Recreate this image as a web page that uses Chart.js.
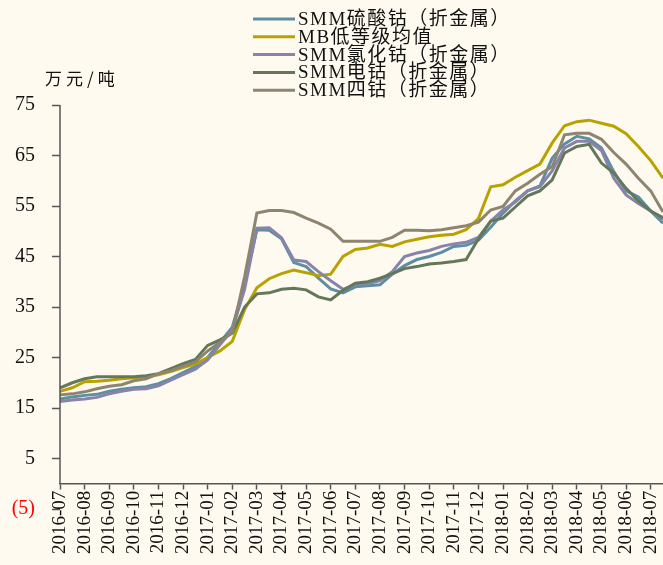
<!DOCTYPE html>
<html lang="zh-CN">
<head>
<meta charset="UTF-8">
<title>钴产品价格走势</title>
<script src="https://cdn.jsdelivr.net/npm/chart.js@4.4.0/dist/chart.umd.min.js"></script>
<style>
  * { margin:0; padding:0; box-sizing:border-box; }
  body { background:#fffaf0; }
  .wrap { width:663px; height:565px; position:relative; }
</style>
</head>
<body>
<div class="wrap"><canvas id="chartCobalt"></canvas></div>

<script>
// 月份刻度，数据为半月一点
const months = ['2016-07','2016-08','2016-09','2016-10','2016-11','2016-12',
  '2017-01','2017-02','2017-03','2017-04','2017-05','2017-06','2017-07','2017-08',
  '2017-09','2017-10','2017-11','2017-12','2018-01','2018-02','2018-03','2018-04',
  '2018-05','2018-06','2018-07'];
const periods = months.flatMap(m => [m, '']);

const yTicks = [-5, 5, 15, 25, 35, 45, 55, 65, 75];

const smmSulfate = [16.8,17.2,17.5,17.7,18.3,18.7,19.0,19.2,19.8,20.8,
  22.0,23.2,25.0,28.0,31.0,39.5,50.3,50.2,48.5,43.8,
  43.0,40.7,38.6,37.8,39.0,39.2,39.4,41.5,43.2,44.4,
  45.0,45.8,47.0,47.2,48.2,50.8,53.6,56.0,58.0,59.0,
  64.5,67.3,68.8,68.3,66.5,61.8,58.0,56.8,54.0,51.6];
const mbLow = [18.3,19.0,20.2,20.3,20.5,20.8,21.0,21.2,21.6,22.2,
  23.0,23.7,25.0,26.3,28.2,34.5,38.8,40.6,41.6,42.3,
  41.8,41.2,41.5,45.0,46.4,46.7,47.4,47.0,47.9,48.4,
  48.9,49.2,49.4,50.3,52.5,58.8,59.2,60.7,62.0,63.3,
  67.5,70.9,71.7,72.0,71.4,70.8,69.3,66.8,64.0,60.5];
const smmChloride = [16.3,16.6,16.8,17.1,17.8,18.3,18.7,18.8,19.4,20.5,
  21.6,22.7,24.5,27.5,30.5,38.5,50.6,50.7,48.7,44.3,
  44.0,42.0,40.2,38.5,39.4,39.6,40.2,42.0,45.0,45.7,
  46.2,47.0,47.5,47.8,48.8,52.0,54.2,55.8,58.0,58.8,
  62.0,66.5,67.8,67.8,66.0,60.5,57.2,55.5,54.0,52.4];
const smmMetal = [19.0,20.0,20.8,21.2,21.2,21.2,21.2,21.4,21.8,22.8,
  23.8,24.6,27.4,28.5,29.8,35.0,37.6,37.8,38.5,38.7,
  38.4,37.0,36.4,38.3,39.7,40.0,40.7,41.6,42.6,43.0,
  43.5,43.7,44.0,44.4,48.5,52.0,52.6,54.8,57.0,58.0,
  60.2,65.5,66.8,67.2,63.5,61.5,58.5,56.0,54.0,52.7];
const smmTetroxide = [17.6,17.8,18.2,18.8,19.3,19.6,20.4,20.8,21.8,22.4,
  23.3,24.1,26.3,28.0,30.0,41.0,53.6,54.1,54.1,53.7,
  52.6,51.6,50.4,48.0,48.0,48.0,48.0,48.8,50.2,50.2,
  50.1,50.3,50.7,51.1,51.8,54.2,54.9,58.0,59.5,61.3,
  62.8,69.1,69.4,69.4,68.2,65.6,63.3,60.5,58.0,53.8];

const seriesNames = ['SMM硫酸钴（折金属）','MB低等级均值','SMM氯化钴（折金属）','SMM电钴（折金属）','SMM四钴（折金属）'];
const seriesColors = ['#5b8fa1','#b9a200','#8883aa','#627858','#8d8570'];
const seriesData = [smmSulfate, mbLow, smmChloride, smmMetal, smmTetroxide];

const SERIF = "'Liberation Serif', 'Noto Sans CJK SC', serif";
const AXIS = '#555';

// 图例、单位和纵轴线
const extras = {
  id:'extras',
  afterDraw(chart) {
    const ctx = chart.ctx, ys = chart.scales.y, area = chart.chartArea;
    ctx.save();
    ctx.strokeStyle = AXIS; ctx.lineWidth = 1.5;
    ctx.beginPath();
    ctx.moveTo(area.left, ys.getPixelForValue(75));
    ctx.lineTo(area.left, ys.getPixelForValue(0));
    ctx.stroke();

    ctx.fillStyle = '#111';
    ctx.font = "17px 'Noto Sans CJK SC', sans-serif";
    ctx.textBaseline = 'middle';
    ctx.letterSpacing = '4px';
    ctx.fillText('万元/吨', 45, 79);

    ctx.font = '19px ' + SERIF;
    ctx.letterSpacing = '1.5px';
    chart.data.datasets.forEach((ds, i) => {
      const y = 19 + i * 17.8;
      ctx.strokeStyle = ds.borderColor; ctx.lineWidth = 3;
      ctx.beginPath(); ctx.moveTo(253, y); ctx.lineTo(295, y); ctx.stroke();
      ctx.fillStyle = '#111';
      ctx.fillText(ds.label, 298, y + 1);
    });
    ctx.restore();
  }
};

new Chart(document.getElementById('chartCobalt'), {
  type:'line',
  data:{
    labels:periods,
    datasets:seriesData.map((d, i) => ({
      label:seriesNames[i], data:d, borderColor:seriesColors[i], backgroundColor:seriesColors[i],
      borderWidth:3, pointRadius:0, tension:0, fill:false, order:5 - i
    }))
  },
  options:{
    responsive:true, maintainAspectRatio:false, animation:false,
    layout:{ padding:{ top:105, bottom:56, left:0, right:0 } },
    plugins:{ legend:{display:false}, tooltip:{enabled:false} },
    scales:{
      x:{
        position:{ y:0 },
        offset:false,
        border:{ display:true, color:AXIS, width:1.5 },
        grid:{ drawOnChartArea:false, drawTicks:true, tickLength:5, tickWidth:1.5,
               tickColor: c => periods[c.index] ? AXIS : 'rgba(0,0,0,0)' },
        ticks:{ autoSkip:false, maxRotation:90, minRotation:90, padding:2,
                color:'#111', font:{ family:SERIF, size:19 } },
        afterFit: s => { s.paddingLeft = 0; s.paddingRight = 0; }
      },
      y:{
        min:-5, max:75,
        afterBuildTicks: s => { s.ticks = yTicks.map(v => ({ value:v })); },
        border:{ display:false },
        grid:{ drawOnChartArea:false, drawTicks:true, tickLength:8, tickWidth:1.5, tickColor:AXIS },
        ticks:{ padding:17, font:{ family:SERIF, size:20 },
                color: c => c.tick.value < 0 ? '#ff0000' : '#111',
                callback: v => v < 0 ? '(' + Math.abs(v) + ')' : v },
        afterFit: s => { s.width = 60; }
      }
    }
  },
  plugins:[extras]
});
</script>
</body>
</html>
